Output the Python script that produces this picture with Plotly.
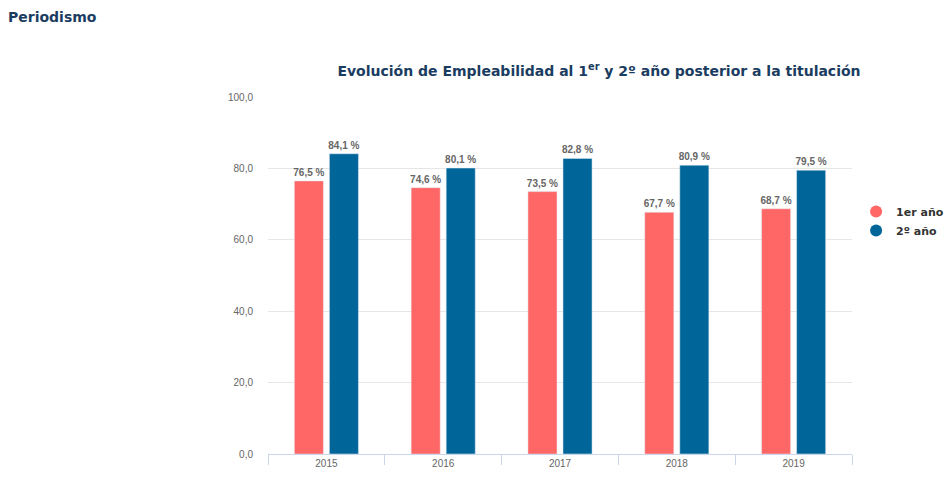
import plotly.graph_objects as go

years = ["2015", "2016", "2017", "2018", "2019"]
primer_anio = [76.5, 74.6, 73.5, 67.7, 68.7]
segundo_anio = [84.1, 80.1, 82.8, 80.9, 79.5]
series_names = ["1er año", "2º año"]
colors = ["#FF6666", "#006699"]

fig = go.Figure()
for name, vals, col in zip(series_names, [primer_anio, segundo_anio], colors):
    fig.add_trace(go.Bar(
        x=years, y=vals, name=name, marker_color=col, showlegend=False,
        texttemplate="%{y:.1f} %", textposition="outside", constraintext="none",
        textfont=dict(family="Liberation Sans, Arial", size=10, color="#666666", weight="bold"),
        cliponaxis=False,
    ))
for name, col in zip(series_names, colors):
    fig.add_trace(go.Scatter(
        x=[None], y=[None], mode="markers", name=name,
        marker=dict(symbol="circle", size=13, color=col),
    ))

fig.update_layout(
    width=952, height=489,
    margin=dict(l=268, r=100, t=97, b=35, autoexpand=False),
    paper_bgcolor="white", plot_bgcolor="white",
    separators=",.",
    barmode="group", bargap=0.4, bargroupgap=0.17,
    font=dict(family="Liberation Sans, Arial", color="#666666"),
    title=dict(
        text="Evolución de Empleabilidad al 1<sup>er</sup> y 2º año posterior a la titulación",
        x=599 / 952, xanchor="center", y=1 - 71 / 489, yanchor="middle",
        xref="container", yref="container",
        font=dict(family="DejaVu Sans, Verdana", size=14, color="#1B3C61", weight="bold"),
    ),
    legend=dict(
        x=1.007, xanchor="left", y=0.72, yanchor="top",
        font=dict(family="DejaVu Sans, Verdana", size=11, color="#333333", weight="bold"),
        itemsizing="constant", itemwidth=30, tracegroupgap=2,
    ),
    annotations=[dict(
        text="Periodismo", xref="paper", yref="paper",
        x=-262 / 584, y=1 + (97 - 17) / 357, xanchor="left", yanchor="middle",
        showarrow=False,
        font=dict(family="DejaVu Sans, Verdana", size=14, color="#1B3C61", weight="bold"),
    )],
    xaxis=dict(
        type="category", showline=True, linecolor="#CCD6EB", linewidth=1,
        ticks="outside", tickson="boundaries", ticklen=10, tickcolor="#CCD6EB",
        tickfont=dict(size=10, color="#666666"), showgrid=False,
    ),
    yaxis=dict(
        range=[0, 100], tickvals=[0, 20, 40, 60, 80, 100], tickformat=".1f",
        showgrid=True, gridcolor="#E6E6E6", zeroline=False, showline=False,
        tickfont=dict(size=10, color="#666666"), ticklabelstandoff=14,
    ),
)

fig.write_html("out.html")
